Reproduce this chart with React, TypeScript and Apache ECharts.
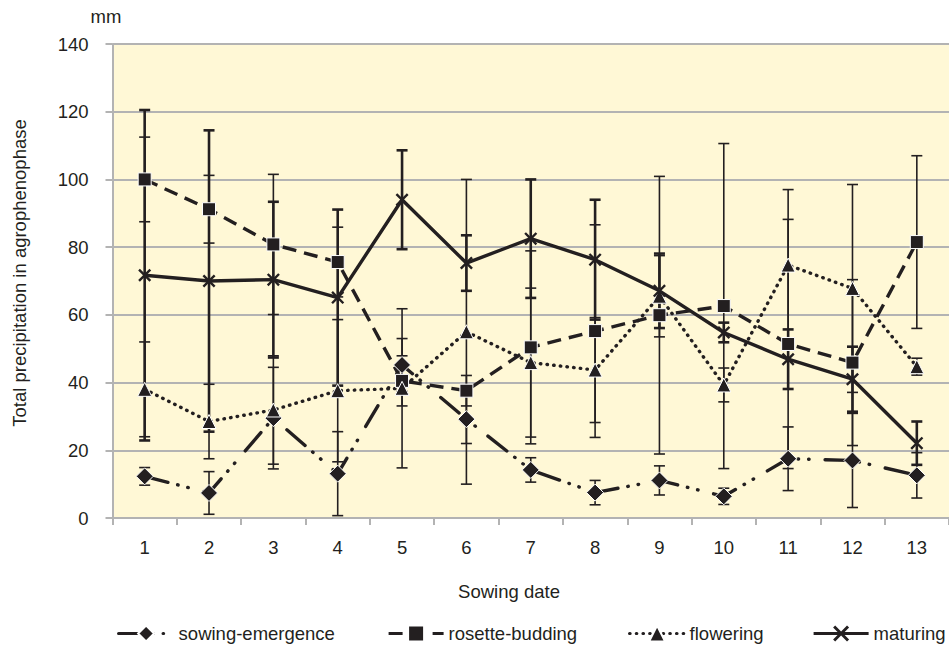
import React, { useEffect, useRef } from "react";
import * as echarts from "echarts";

// Sowing dates on the x axis
const sowingDates = ["1", "2", "3", "4", "5", "6", "7", "8", "9", "10", "11", "12", "13"];

// Mean precipitation (mm) per agrophenophase and its ± deviation
const sowingEmergence = [12.3, 7.4, 29.5, 13.1, 45.2, 29.2, 14.2, 7.5, 11.1, 6.4, 17.5, 17.0, 12.6];
const sowingEmergenceDev = [2.6, 6.3, 15, 12.4, 7.8, 7.2, 3.6, 3.6, 4.3, 2.4, 9.4, 13.9, 6.7];

const rosetteBudding = [100, 91.2, 80.8, 75.6, 40.5, 37.6, 50.4, 55.2, 59.9, 62.6, 51.4, 45.9, 81.5];
const rosetteBuddingDev = [12.5, 10, 20.7, 10.3, 7.4, 4.5, 28.5, 31.4, 41, 48, 36.8, 24.5, 25.5];

const flowering = [38, 28.5, 31.9, 37.6, 38.3, 55.0, 45.9, 43.7, 65.5, 39.3, 74.7, 67.8, 44.7];
const floweringDev = [14, 11, 16, 21, 23.5, 45, 22, 15.5, 12, 5, 22.3, 30.7, 2.5];

const maturing = [71.7, 70.0, 70.4, 65.1, 94.0, 75.3, 82.5, 76.3, 67.1, 54.8, 46.9, 41.0, 22.1];
const maturingDev = [48.8, 44.5, 23, 26, 14.6, 8.2, 17.5, 17.7, 11, 2.9, 8.8, 9.6, 6.4];

const phaseNames = ["sowing-emergence", "rosette-budding", "flowering", "maturing"];

const INK = "#231f20";
const GRID = "#b3b3b3";
const FONT = "'Liberation Sans', Arial, Helvetica, sans-serif";
const FONT_SIZE = 18.5;

// Left edge of each legend entry along the bottom row
const legendLefts = [117, 387, 628, 812];

const CROSS =
  "path://M0,1.3L1.3,0L5,3.7L8.7,0L10,1.3L6.3,5L10,8.7L8.7,10L5,6.3L1.3,10L0,8.7L3.7,5Z";

function errorBars(name: string, values: number[], dev: number[], width: number) {
  return {
    type: "custom",
    name: name + " deviation",
    z: 1,
    silent: true,
    data: values.map((v, i) => [i, v - dev[i], v + dev[i]]),
    encode: { x: 0, y: [1, 2] },
    renderItem: (_params: any, api: any) => {
      const idx = api.value(0);
      const lo = api.coord([idx, api.value(1)]);
      const hi = api.coord([idx, api.value(2)]);
      const half = 5.5;
      const style = { stroke: INK, lineWidth: width };
      return {
        type: "group",
        children: [
          { type: "line", shape: { x1: lo[0], y1: lo[1], x2: hi[0], y2: hi[1] }, style },
          { type: "line", shape: { x1: lo[0] - half, y1: lo[1], x2: lo[0] + half, y2: lo[1] }, style },
          { type: "line", shape: { x1: hi[0] - half, y1: hi[1], x2: hi[0] + half, y2: hi[1] }, style },
        ],
      };
    },
  };
}

function phaseLine(
  name: string,
  values: number[],
  symbol: string,
  symbolSize: number,
  lineType: any,
  cap: string,
  halo: boolean
) {
  return {
    type: "line",
    name,
    data: values,
    z: 3,
    symbol,
    symbolSize,
    showAllSymbol: true,
    lineStyle: { color: INK, width: 3.4, type: lineType, cap },
    itemStyle: { color: INK, borderColor: halo ? "#ffffff" : INK, borderWidth: halo ? 1 : 0 },
    emphasis: { disabled: true },
  };
}

export default function App() {
  const ref = useRef<HTMLDivElement>(null);

  useEffect(() => {
    if (!ref.current) return;
    const chart = echarts.init(ref.current, undefined, { renderer: "svg" });
    chart.setOption({
      animation: false,
      textStyle: { fontFamily: FONT },
      grid: {
        left: 112.5,
        right: -7.5,
        top: 44,
        bottom: 130,
        show: true,
        backgroundColor: "#fff8d6",
        borderWidth: 0,
      },
      legend: phaseNames.map((name, i) => ({
        data: [name],
        left: legendLefts[i],
        top: 624,
        padding: 0,
        itemWidth: 55,
        itemHeight: 20,
        selectedMode: false,
        lineStyle: { width: 3.2 },
        textStyle: { fontSize: FONT_SIZE, color: INK, fontFamily: FONT },
      })),
      xAxis: {
        type: "category",
        data: sowingDates,
        boundaryGap: true,
        axisLine: { show: true, lineStyle: { color: GRID, width: 2 } },
        axisTick: { show: true, length: 7, lineStyle: { color: GRID, width: 2 } },
        axisLabel: { margin: 20, fontSize: FONT_SIZE, color: INK, fontFamily: FONT },
        splitLine: { show: false },
      },
      yAxis: {
        type: "value",
        min: 0,
        max: 140,
        interval: 20,
        axisLine: { show: true, lineStyle: { color: GRID, width: 2 } },
        axisTick: { show: true, length: 7, lineStyle: { color: GRID, width: 2 } },
        axisLabel: { margin: 24, fontSize: FONT_SIZE, color: INK, fontFamily: FONT },
        splitLine: { show: true, lineStyle: { color: GRID, width: 2 } },
      },
      graphic: [
        {
          type: "text",
          x: 106,
          y: 16,
          style: {
            text: "mm",
            fill: INK,
            font: `${FONT_SIZE}px ${FONT}`,
            textAlign: "center",
            textVerticalAlign: "middle",
          },
        },
        {
          type: "text",
          x: 509,
          y: 591,
          style: {
            text: "Sowing date",
            fill: INK,
            font: `${FONT_SIZE}px ${FONT}`,
            textAlign: "center",
            textVerticalAlign: "middle",
          },
        },
        {
          type: "text",
          x: 19,
          y: 273,
          rotation: Math.PI / 2,
          style: {
            text: "Total precipitation in agrophenophase",
            fill: INK,
            font: `${FONT_SIZE}px ${FONT}`,
            textAlign: "center",
            textVerticalAlign: "middle",
          },
        },
      ],
      series: [
        errorBars(phaseNames[0], sowingEmergence, sowingEmergenceDev, 1.6),
        errorBars(phaseNames[1], rosetteBudding, rosetteBuddingDev, 1.6),
        errorBars(phaseNames[2], flowering, floweringDev, 1.6),
        errorBars(phaseNames[3], maturing, maturingDev, 2.6),
        phaseLine(phaseNames[0], sowingEmergence, "diamond", 17, [24, 10, 0.5, 10, 0.5, 16], "round", true),
        phaseLine(phaseNames[1], rosetteBudding, "rect", 13, [14, 8], "butt", true),
        phaseLine(phaseNames[2], flowering, "triangle", 14, [0.5, 6.2], "round", true),
        phaseLine(phaseNames[3], maturing, CROSS, 13, "solid", "butt", false),
      ],
    });
    return () => chart.dispose();
  }, []);

  return (
    <div
      ref={ref}
      style={{ position: "absolute", left: 0, top: 0, width: 949, height: 648 }}
    />
  );
}
